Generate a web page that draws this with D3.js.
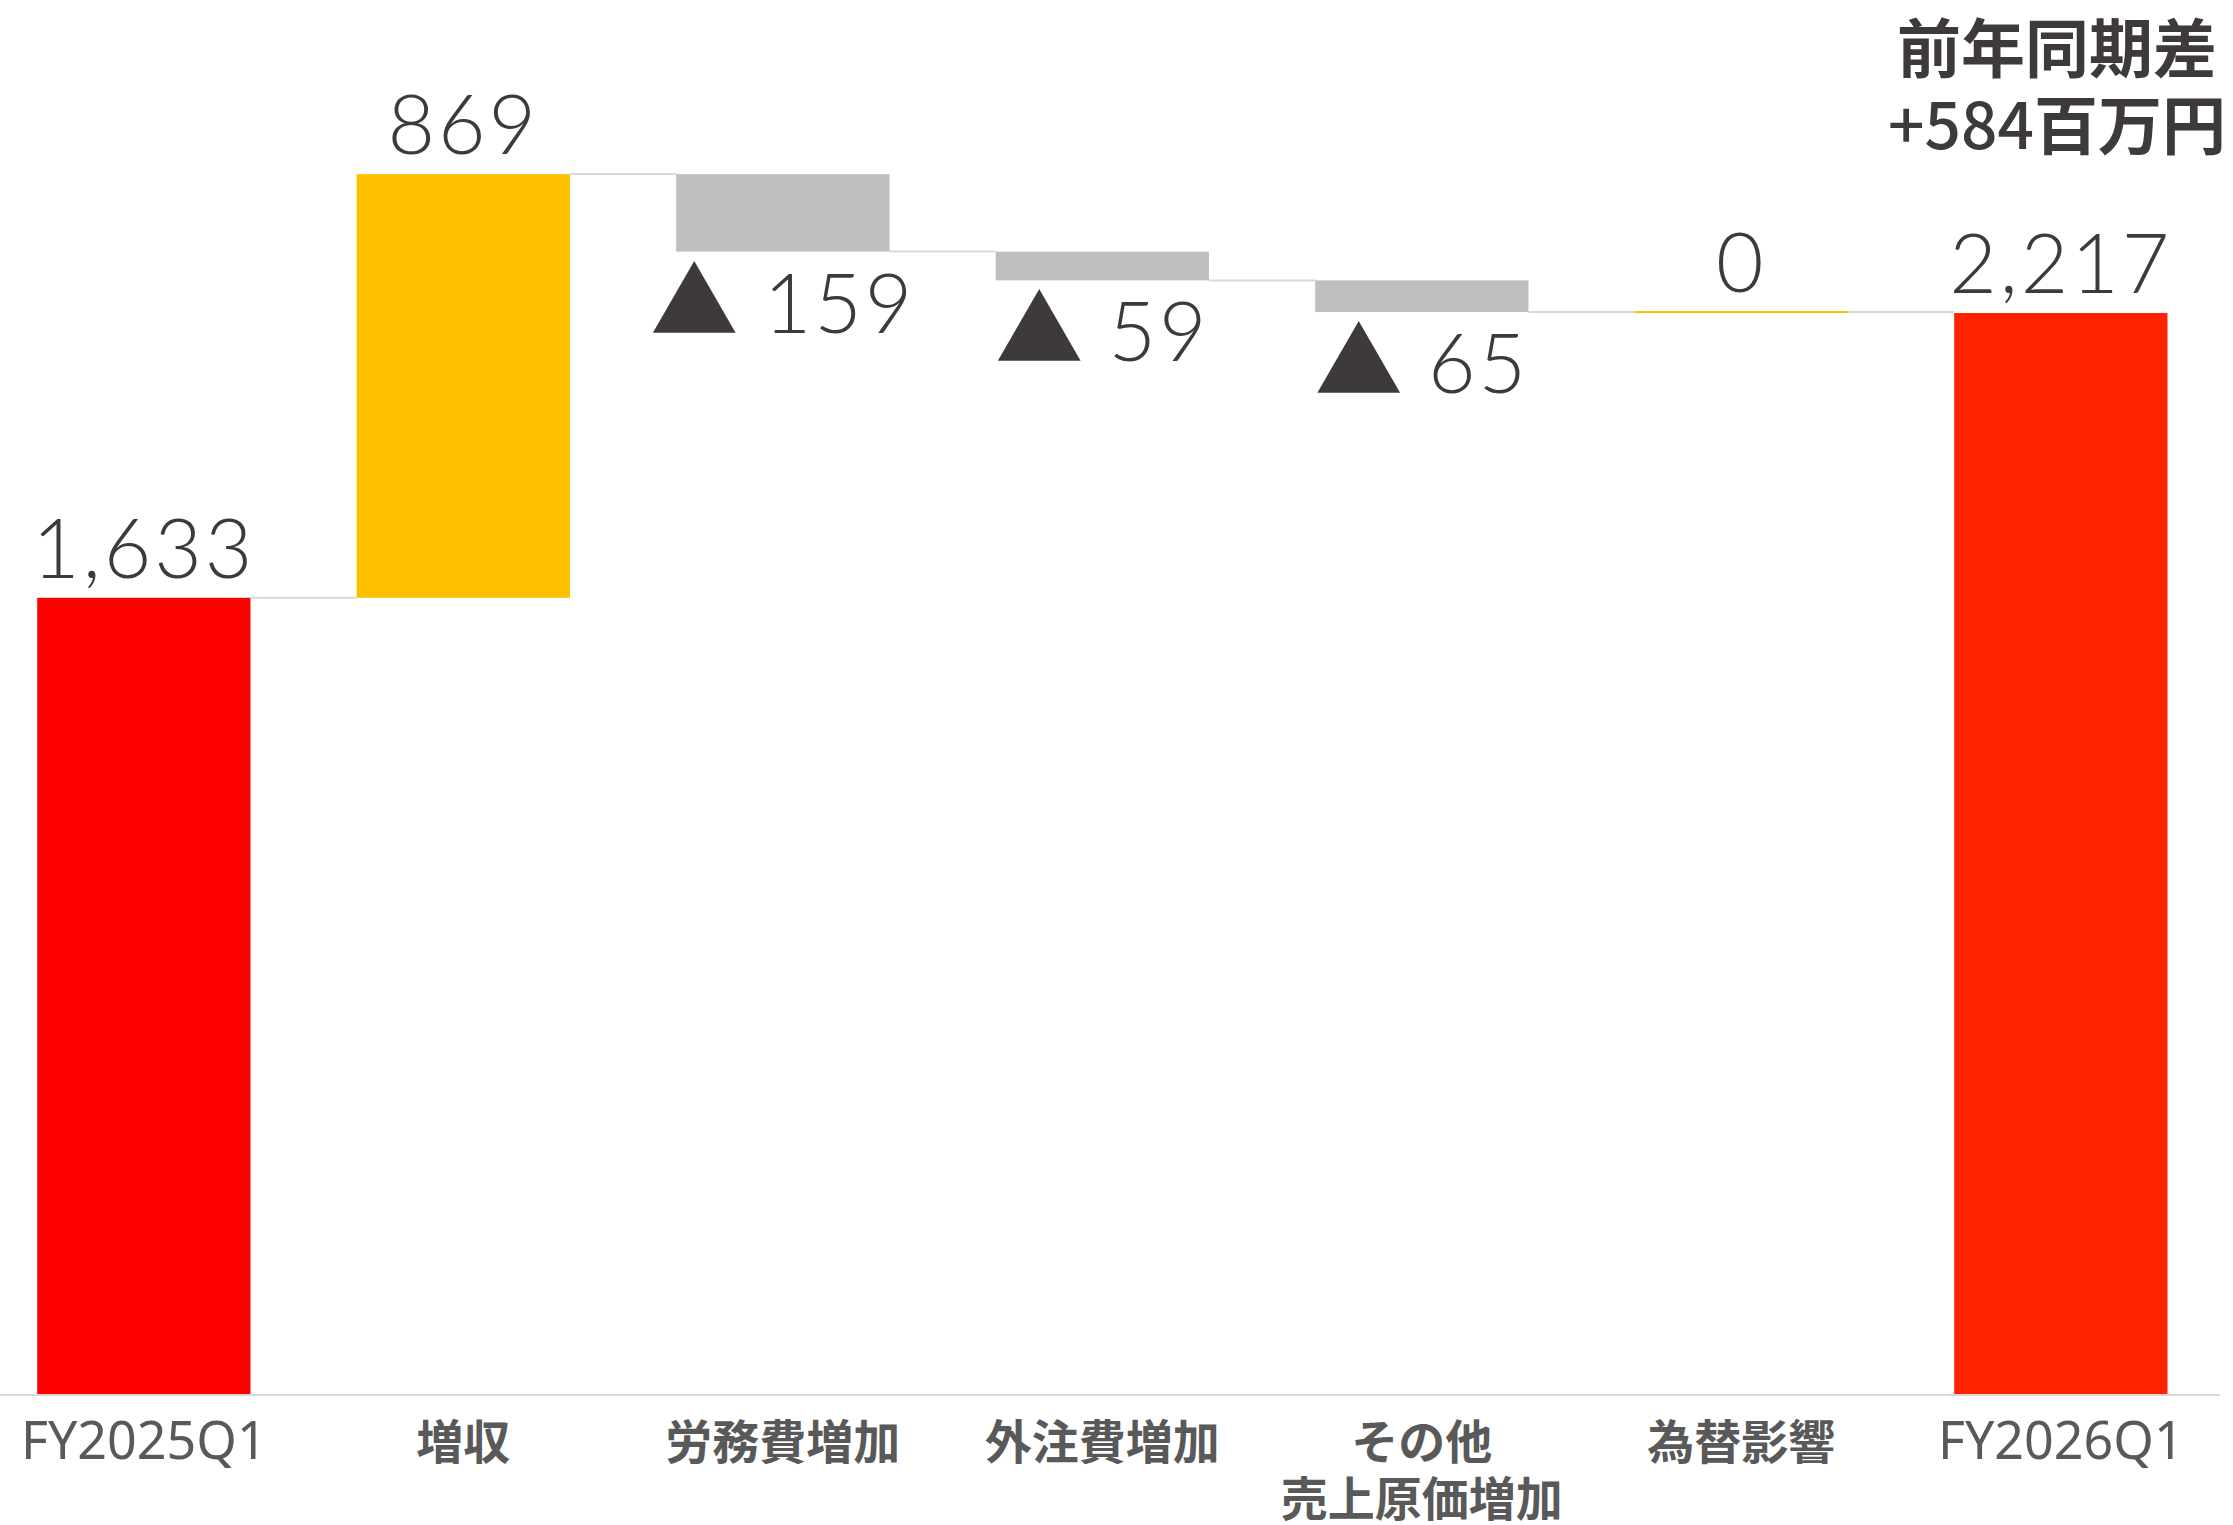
<!DOCTYPE html>
<html>
<head>
<meta charset="utf-8">
<script src="https://cdn.jsdelivr.net/npm/d3@7"></script>
<style>
  html, body { margin: 0; padding: 0; background: #ffffff; }
  svg { display: block; }
</style>
</head>
<body>
<svg id="chart" width="2233" height="1525"></svg>
<script>
// Operating profit bridge, FY2025Q1 -> FY2026Q1 (million yen)
const categories = ["FY2025Q1", "増収", "労務費増加", "外注費増加", "その他\n売上原価増加", "為替影響", "FY2026Q1"];
const values = [1633, 869, -159, -59, -65, 0, 2217];
const barKinds = ["total", "step", "step", "step", "step", "step", "total"];
const barColors = ["#FF0000", "#FFC000", "#BFBFBF", "#BFBFBF", "#BFBFBF", "#FFC000", "#FF2200"];
const noteHeading = "前年同期差";
const noteAmount = "+584";
const noteUnit = "百万円";
const yDomain = [0, 2800];

const svg = d3.select("#chart");

const x = d3.scaleBand()
  .domain(d3.range(categories.length))
  .range([37.2, 2167.5])
  .paddingInner(0.3324)
  .paddingOuter(0);

const y = d3.scaleLinear().domain(yDomain).range([1394, 28.8]);

// running totals for the waterfall
let running = 0;
const bars = values.map((v, i) => {
  let start, end;
  if (barKinds[i] === "total") { start = 0; end = v; }
  else { start = running; end = running + v; }
  running = end;
  return { i, v, start, end, color: barColors[i], kind: barKinds[i] };
});

// baseline
svg.append("line")
  .attr("x1", 0).attr("x2", 2220)
  .attr("y1", y(0) + 1).attr("y2", y(0) + 1)
  .attr("stroke", "#D9D9D9").attr("stroke-width", 2);

// connectors between consecutive bars
const conn = svg.append("g");
for (let k = 0; k < bars.length - 1; k++) {
  const b = bars[k];
  conn.append("line")
    .attr("x1", x(b.i) + x.bandwidth())
    .attr("x2", x(b.i + 1))
    .attr("y1", y(b.end)).attr("y2", y(b.end))
    .attr("stroke", "#D9D9D9").attr("stroke-width", 2);
}

// bars (a zero change is drawn as a thin line)
svg.append("g").selectAll("rect")
  .data(bars)
  .join("rect")
  .attr("x", d => x(d.i))
  .attr("width", x.bandwidth())
  .attr("y", d => d.start === d.end ? y(d.end) - 1 : y(Math.max(d.start, d.end)))
  .attr("height", d => d.start === d.end ? 2 : Math.abs(y(d.start) - y(d.end)))
  .attr("fill", d => d.color);

// value labels
const fmt = d3.format(",");
const labels = svg.append("g")
  .attr("font-family", "Lato, 'Noto Sans', sans-serif")
  .attr("font-weight", 300)
  .attr("font-size", 82)
  .attr("letter-spacing", 3)
  .attr("fill", "#3E3A39")
  .attr("text-anchor", "middle");

bars.forEach(d => {
  const cx = x(d.i) + x.bandwidth() / 2;
  if (d.v < 0) {
    const t = labels.append("text")
      .attr("x", cx)
      .attr("y", y(Math.min(d.start, d.end)) + 81);
    t.append("tspan")
      .attr("font-family", "'Noto Sans CJK JP', sans-serif")
      .attr("font-weight", 400)
      .attr("font-size", 88)
      .attr("letter-spacing", 0)
      .text("▲");
    t.append("tspan").text(" " + fmt(Math.abs(d.v)));
  } else {
    labels.append("text")
      .attr("x", cx)
      .attr("y", y(Math.max(d.start, d.end)) - 20)
      .text(fmt(d.v));
  }
});

// category labels
const cats = svg.append("g")
  .attr("fill", "#595959")
  .attr("text-anchor", "middle");

categories.forEach((c, i) => {
  const cx = x(i) + x.bandwidth() / 2;
  const latin = /^[\x00-\x7F\n]+$/.test(c);
  const t = cats.append("text")
    .attr("x", cx)
    .attr("y", 1459)
    .attr("font-family", latin ? "'Noto Sans', sans-serif" : "'Noto Sans CJK JP', sans-serif")
    .attr("font-weight", latin ? 400 : 700)
    .attr("font-size", latin ? 52 : 47);
  c.split("\n").forEach((line, j) => {
    t.append("tspan")
      .attr("x", cx)
      .attr("dy", j === 0 ? 0 : 57)
      .text(line);
  });
});

// year-over-year difference note
const note = svg.append("g")
  .attr("font-family", "'Noto Sans CJK JP', sans-serif")
  .attr("font-weight", 700)
  .attr("font-size", 64)
  .attr("fill", "#3E3A39")
  .attr("text-anchor", "middle");
note.append("text")
  .attr("x", 2057)
  .attr("y", 72)
  .text(noteHeading);
const amt = note.append("text")
  .attr("x", 2057)
  .attr("y", 149);
amt.append("tspan").attr("font-weight", 500).text(noteAmount);
amt.append("tspan").text(noteUnit);
</script>
</body>
</html>
